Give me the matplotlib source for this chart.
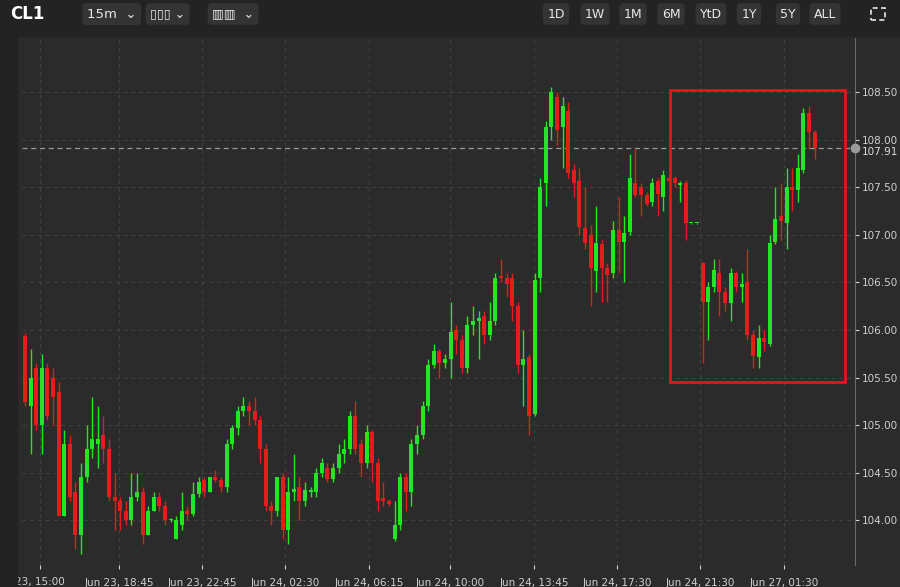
import matplotlib
matplotlib.use("Agg")
import matplotlib.pyplot as plt
from matplotlib.patches import Rectangle
import numpy as np

opens = [105.94,105.2,105.6,105.0,105.6,105.5,105.35,104.05,104.8,104.3,103.85,104.45,104.75,104.8,104.9,104.75,104.25,104.2,104.1,104.0,
104.25,104.3,103.85,104.1,104.25,104.15,104.0,103.8,103.95,104.1,104.07,104.28,104.42,104.3,104.45,104.42,104.35,104.8,104.97,105.15,
105.2,105.15,105.05,104.75,104.15,104.1,104.45,103.9,104.3,104.35,104.2,104.3,104.3,104.5,104.55,104.43,104.55,104.7,104.75,105.1,
104.8,104.6,104.93,104.6,104.23,104.2,103.8,103.95,104.45,104.3,104.8,104.9,105.2,105.63,105.78,105.65,105.7,106.0,105.9,105.6,
106.05,106.1,106.15,105.95,106.1,106.57,106.55,106.55,106.25,105.63,105.72,105.12,106.55,107.55,108.13,108.45,108.13,108.3,107.68,107.57,
107.07,107.0,106.62,106.9,106.65,106.6,107.05,106.93,107.03,107.55,107.5,107.42,107.35,107.57,107.4,107.6,107.6,107.52,107.55,107.12,
107.12,106.7,106.3,106.45,106.6,106.4,106.28,106.6,106.45,106.5,105.95,105.72,105.92,105.85,106.93,107.2,107.12,107.5,107.47,107.68,
108.28,108.08]
highs = [105.97,105.8,105.65,105.75,105.65,105.6,105.45,104.95,104.9,104.4,104.6,105.0,105.3,105.2,105.1,104.85,104.5,104.25,104.2,104.5,
104.5,104.35,104.15,104.3,104.3,104.2,104.02,104.05,104.3,104.15,104.4,104.45,104.45,104.45,104.53,104.45,104.85,105.0,105.2,105.3,
105.25,105.3,105.1,104.8,104.2,104.45,104.5,104.45,104.7,104.45,104.4,104.35,104.55,104.65,104.6,104.6,104.8,104.85,105.15,105.25,
104.85,105.0,104.95,104.65,104.4,104.22,104.2,104.5,104.5,104.85,105.0,105.25,105.7,105.85,105.8,105.75,106.3,106.05,105.95,106.15,
106.25,106.2,106.2,106.3,106.6,106.75,106.6,106.6,106.3,106.0,105.75,106.6,107.6,108.2,108.55,108.5,108.45,108.4,107.75,107.7,
107.5,107.1,107.3,106.95,106.7,107.15,107.4,107.2,107.85,107.9,107.55,107.45,107.6,107.6,107.68,107.62,107.62,107.57,107.58,107.13,
107.13,106.72,106.5,106.75,106.75,106.45,106.65,106.62,106.6,106.85,106.0,106.05,106.0,107.0,107.5,107.55,107.7,107.7,107.85,108.33,
108.35,108.1]
lows = [105.2,104.7,104.95,104.7,105.05,105.0,104.05,104.05,104.2,103.7,103.65,104.4,104.65,104.55,104.6,104.2,103.9,103.9,103.95,103.95,
104.2,103.75,103.85,104.1,104.1,103.95,103.98,103.8,103.9,104.0,104.05,104.25,104.25,104.3,104.4,104.3,104.3,104.75,104.9,105.1,
105.0,105.0,104.6,104.1,103.95,104.05,103.8,103.75,104.2,104.0,104.15,104.25,104.25,104.45,104.4,104.4,104.5,104.6,104.7,104.7,
104.45,104.55,104.4,104.1,104.15,104.15,103.78,103.9,104.1,104.15,104.7,104.85,105.15,105.6,105.5,105.6,105.5,105.75,105.55,105.55,
105.95,105.7,105.85,105.9,106.05,106.5,106.35,106.1,105.55,105.2,104.9,105.1,106.4,107.3,108.0,107.95,107.7,107.6,107.4,107.0,
106.85,106.25,106.4,106.3,106.3,106.55,106.6,106.5,107.0,107.4,107.2,107.3,107.3,107.2,107.25,107.55,107.5,107.35,106.95,107.11,
107.11,105.65,105.9,106.4,106.15,106.2,106.1,106.4,106.3,105.9,105.6,105.6,105.78,105.83,106.9,106.95,106.85,107.25,107.35,107.65,
107.9,107.8]
closes = [105.24,105.5,105.0,105.6,105.1,105.3,104.05,104.8,104.25,103.85,104.45,104.75,104.85,104.85,104.75,104.25,104.2,104.1,104.0,104.25,
104.3,103.85,104.1,104.25,104.15,104.0,104.0,104.0,104.1,104.07,104.28,104.4,104.3,104.45,104.42,104.35,104.8,104.97,105.15,105.2,
105.15,105.05,104.75,104.15,104.1,104.45,103.9,104.3,104.33,104.2,104.32,104.3,104.5,104.6,104.43,104.55,104.7,104.75,105.1,104.75,
104.6,104.93,104.6,104.2,104.2,104.17,103.95,104.45,104.3,104.8,104.9,105.2,105.63,105.78,105.65,105.7,105.98,105.9,105.6,106.05,
106.1,106.13,105.95,106.1,106.55,106.55,106.48,106.25,105.63,105.7,105.1,106.53,107.5,108.13,108.5,108.1,108.35,107.65,107.55,107.08,
106.92,106.65,106.92,106.65,106.58,107.05,106.93,107.02,107.6,107.42,107.42,107.33,107.55,107.43,107.63,107.57,107.55,107.55,107.12,107.12,
107.12,106.3,106.45,106.63,106.4,106.28,106.6,106.45,106.48,105.95,105.73,105.92,105.87,106.92,107.17,107.15,107.5,107.47,107.7,108.28,
108.08,107.91]

tick_idx = [2.7, 16.8, 31.6, 46.4, 61.4, 75.9, 90.9, 105.7, 120.5, 135.5]
tick_labels = ["23, 15:00", "Jun 23, 18:45", "Jun 23, 22:45", "Jun 24, 02:30", "Jun 24, 06:15",
               "Jun 24, 10:00", "Jun 24, 13:45", "Jun 24, 17:30", "Jun 24, 21:30", "Jun 27, 01:30"]
price_ticks = [104.0, 104.5, 105.0, 105.5, 106.0, 106.5, 107.0, 107.5, 108.0, 108.5]
last_price = 107.91
box_x = [115.2, 146.4]
box_y = [105.45, 108.52]

BG = "#2a2b2a"
TOP = "#222322"
GREEN = "#22e622"
RED = "#e31c1c"

fig = plt.figure(figsize=(9, 5.87), dpi=100, facecolor=BG)
ax = fig.add_axes([22/900, 22/587, 833/900, 527/587], facecolor=BG)

o = np.array(opens); h = np.array(highs); l = np.array(lows); c = np.array(closes)
x = np.arange(len(o))
col = np.where(c >= o, GREEN, RED)
ax.vlines(x, l, h, colors=col, linewidth=1.0, zorder=3)
bot = np.minimum(o, c)
ht = np.maximum(np.abs(c - o), 0.015)
ax.bar(x, ht, bottom=bot, width=0.72, color=col, zorder=4, linewidth=0)

ax.set_xlim(-0.54, 148.2)
ax.set_ylim(103.53, 109.07)
ax.set_xticks(tick_idx)
ax.set_xticklabels(tick_labels)
ax.set_yticks(price_ticks)
ax.set_yticklabels([f"{p:.2f}" for p in price_ticks])
ax.yaxis.tick_right()
ax.tick_params(axis='both', colors="#cfcfcf", labelsize=7.5, length=3)
ax.tick_params(axis='y', pad=2)
ax.tick_params(axis='x', pad=6)
for s in ax.spines.values():
    s.set_visible(False)
ax.spines['right'].set_visible(True)
ax.spines['right'].set_color("#6a6a6a")
ax.grid(True, color="#414241", linestyle=(0, (4, 4)), linewidth=0.7, zorder=0)

ax.axhline(last_price, color="#9a9a9a", linestyle=(0, (4, 3)), linewidth=0.9, zorder=2)
ax.plot([148.2], [last_price], 'o', color="#9a9a9a", markersize=6, clip_on=False, zorder=6)
ax.text(1.008, last_price - 0.04, f"{last_price:.2f}", transform=ax.get_yaxis_transform(),
        color="#dddddd", fontsize=7.5, va='center', ha='left')

ax.add_patch(Rectangle((box_x[0], box_y[0]), box_x[1]-box_x[0], box_y[1]-box_y[0],
                       fill=False, edgecolor="#e8141c", linewidth=2, zorder=7))

# top toolbar
fig.patches.append(Rectangle((0, 1-36/587), 1, 36/587, transform=fig.transFigure, color=TOP, zorder=0))
fig.patches.append(Rectangle((0, 0), 17/900, 1-36/587, transform=fig.transFigure, color=TOP, zorder=0))
fig.text(10/900, 1-14/587, "CL1", color="white", fontsize=12, fontweight='bold', va='center')
bb = dict(boxstyle="round,pad=0.35", fc="#333433", ec="none")
fig.text(87/900, 1-14/587, "15m  ⌄", color="#e8e8e8", fontsize=9.5, va='center', bbox=bb)
fig.text(150/900, 1-14/587, "▯▯▯ ⌄", color="#e8e8e8", fontsize=9, va='center', bbox=bb)
fig.text(212/900, 1-14/587, "▥▥  ⌄", color="#e8e8e8", fontsize=9, va='center', bbox=bb)
for lbl, px in zip(["1D", "1W", "1M", "6M", "YtD", "1Y", "5Y", "ALL"],
                   [556, 595, 633, 671, 711, 749, 788, 825]):
    fig.text(px/900, 1-14/587, lbl, color="#e8e8e8", fontsize=9, va='center', ha='center', bbox=bb)
# full-screen icon drawn as a shape
fig.patches.append(Rectangle((871/900, 1-20/587), 14/900, 12/587, transform=fig.transFigure,
                             fill=False, edgecolor="#e8e8e8", linewidth=1.2, linestyle=(0, (3, 2))))

fig.savefig("out.png", dpi=100, facecolor=BG)
